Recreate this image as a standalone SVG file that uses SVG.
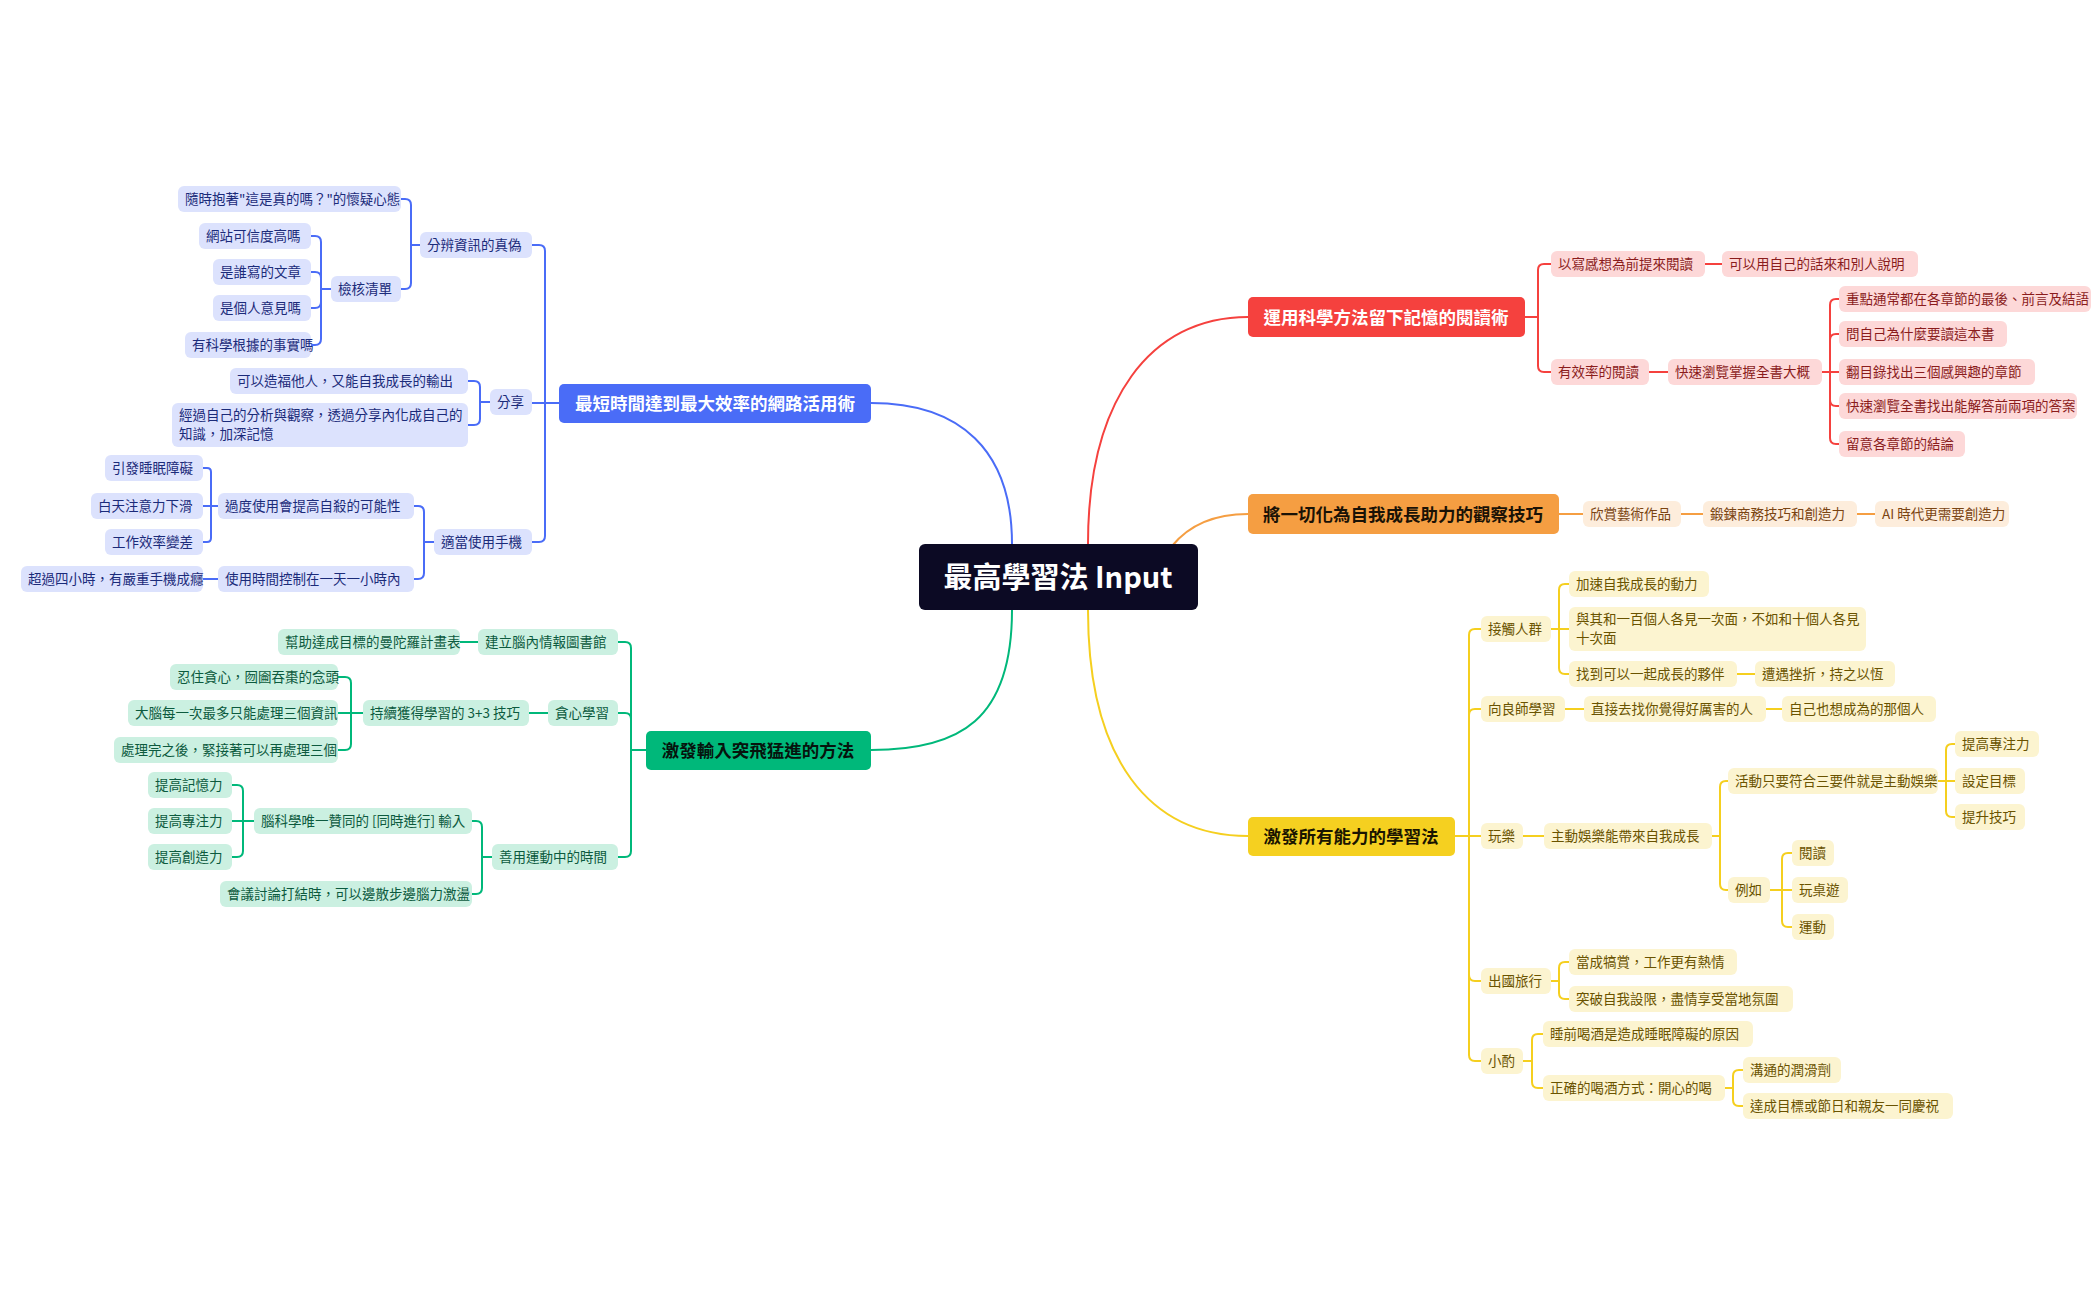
<svg xmlns="http://www.w3.org/2000/svg" width="2100" height="1300" viewBox="0 0 2100 1300">
<style>
text{font-family:"Noto Sans CJK TC","Noto Sans CJK SC",sans-serif;font-size:13.5px}
.b rect{fill:#dce2fd}.b text{fill:#1b2b7a}
.g rect{fill:#cbf0e1}.g text{fill:#0c5a3e}
.r rect{fill:#fdd8d8}.r text{fill:#8b1c1c}
.o rect{fill:#fdeddc}.o text{fill:#7a4412}
.y rect{fill:#fcf4d0}.y text{fill:#6a5300}
.m text{font-size:17.5px;font-weight:bold}
#connectors path{fill:none;stroke-width:2}
.cb{stroke:#4a6cf7}.cg{stroke:#00b87a}.cr{stroke:#f5413e}.co{stroke:#f59e42}.cy{stroke:#f5cf1f}
</style>
<rect width="2100" height="1300" fill="#fff"/>
<g id="connectors">
<g class="cb">
<path d="M1012 544 C1012 450 960 403 871 403" stroke-width="3"/>
<path d="M559 403 H545 V251 Q545 245 539 245 H532"/><path d="M559 403 H532"/><path d="M559 403 H545 V536 Q545 542 539 542 H532"/>
<path d="M420 245 H411 V205 Q411 199 405 199 H401"/><path d="M420 245 H411 V283 Q411 289 405 289 H401"/>
<path d="M331 289 H321 V242 Q321 236 315 236 H311"/><path d="M331 289 H321 V278 Q321 272 315 272 H311"/><path d="M331 289 H321 V302 Q321 308 315 308 H311"/><path d="M331 289 H321 V339 Q321 345 315 345 H311"/>
<path d="M490 402 H480 V387 Q480 381 474 381 H468"/><path d="M490 402 H480 V419 Q480 425 474 425 H468"/>
<path d="M434 542 H424 V512 Q424 506 418 506 H414"/><path d="M434 542 H424 V573 Q424 579 418 579 H414"/>
<path d="M218 506 H211 V472 Q211 468 207 468 H203"/><path d="M218 506 H203"/><path d="M218 506 H211 V538 Q211 542 207 542 H203"/>
<path d="M218 579 H203"/>
</g>
<g class="cg">
<path d="M1012 610 C1012 720 960 750 871 750" stroke-width="3"/>
<path d="M646 750 H631 V648 Q631 642 625 642 H618"/><path d="M646 750 H631 V719 Q631 713 625 713 H618"/><path d="M646 750 H631 V851 Q631 857 625 857 H618"/>
<path d="M478 642 H460"/><path d="M548 713 H529"/>
<path d="M363 713 H351 V683 Q351 677 345 677 H338"/><path d="M363 713 H338"/><path d="M363 713 H351 V744 Q351 750 345 750 H338"/>
<path d="M492 857 H482 V827 Q482 821 476 821 H472"/><path d="M492 857 H482 V888 Q482 894 476 894 H472"/>
<path d="M254 821 H243 V791 Q243 785 237 785 H232"/><path d="M254 821 H232"/><path d="M254 821 H243 V851 Q243 857 237 857 H232"/>
</g>
<g class="cr">
<path d="M1088 544 C1088 400 1150 317 1248 317" stroke-width="3"/>
<path d="M1525 317 H1538 V270 Q1538 264 1544 264 H1551"/><path d="M1525 317 H1538 V366 Q1538 372 1544 372 H1551"/>
<path d="M1705 264 H1722"/><path d="M1649 372 H1668"/>
<path d="M1822 372 H1830 V305 Q1830 299 1836 299 H1839"/><path d="M1822 372 H1830 V340 Q1830 334 1836 334 H1839"/><path d="M1822 372 H1839"/><path d="M1822 372 H1830 V400 Q1830 406 1836 406 H1839"/><path d="M1822 372 H1830 V438 Q1830 444 1836 444 H1839"/>
</g>
<g class="co">
<path d="M1172 546 C1190 524 1215 514 1248 514" stroke-width="3"/>
<path d="M1559 514 H1583"/><path d="M1681 514 H1703"/><path d="M1857 514 H1875"/>
</g>
<g class="cy">
<path d="M1088 610 C1088 760 1150 836 1248 836" stroke-width="3"/>
<path d="M1455 836 H1469 V635 Q1469 629 1475 629 H1481"/><path d="M1455 836 H1469 V715 Q1469 709 1475 709 H1481"/><path d="M1455 836 H1481"/><path d="M1455 836 H1469 V975 Q1469 981 1475 981 H1481"/><path d="M1455 836 H1469 V1055 Q1469 1061 1475 1061 H1481"/>
<path d="M1551 629 H1559 V590 Q1559 584 1565 584 H1569"/><path d="M1551 629 H1569"/><path d="M1551 629 H1559 V668 Q1559 674 1565 674 H1569"/>
<path d="M1737 674 H1755"/><path d="M1565 709 H1584"/><path d="M1766 709 H1782"/><path d="M1523 836 H1544"/>
<path d="M1712 836 H1720 V787 Q1720 781 1726 781 H1728"/><path d="M1712 836 H1720 V884 Q1720 890 1726 890 H1728"/>
<path d="M1938 781 H1946 V750 Q1946 744 1952 744 H1955"/><path d="M1938 781 H1955"/><path d="M1938 781 H1946 V811 Q1946 817 1952 817 H1955"/>
<path d="M1770 890 H1782 V859 Q1782 853 1788 853 H1792"/><path d="M1770 890 H1792"/><path d="M1770 890 H1782 V921 Q1782 927 1788 927 H1792"/>
<path d="M1551 981 H1559 V968 Q1559 962 1565 962 H1569"/><path d="M1551 981 H1559 V993 Q1559 999 1565 999 H1569"/>
<path d="M1523 1061 H1532 V1040 Q1532 1034 1538 1034 H1543"/><path d="M1523 1061 H1532 V1082 Q1532 1088 1538 1088 H1543"/>
<path d="M1725 1088 H1733 V1076 Q1733 1070 1739 1070 H1743"/><path d="M1725 1088 H1733 V1100 Q1733 1106 1739 1106 H1743"/>
</g>
</g>
<g id="center"><rect x="919" y="544" width="279" height="66" rx="6" fill="#0c0a24"/><text x="1058" y="588" text-anchor="middle" fill="#fff" style="font-size:29px;font-weight:bold">最高學習法 Input</text></g>
<g id="blue-main" class="m"><rect x="559" y="384" width="312" height="39" rx="5" fill="#4a6cf7"/><text x="715" y="410" text-anchor="middle" fill="#fff">最短時間達到最大效率的網路活用術</text></g>
<g id="green-main" class="m"><rect x="646" y="731" width="225" height="39" rx="5" fill="#00b87a"/><text x="758" y="757" text-anchor="middle" fill="#06130d">激發輸入突飛猛進的方法</text></g>
<g id="red-main" class="m"><rect x="1248" y="297" width="277" height="40" rx="5" fill="#f5413e"/><text x="1386" y="324" text-anchor="middle" fill="#fff">運用科學方法留下記憶的閱讀術</text></g>
<g id="orange-main" class="m"><rect x="1248" y="494" width="311" height="40" rx="5" fill="#f59e42"/><text x="1403" y="521" text-anchor="middle" fill="#1a1206">將一切化為自我成長助力的觀察技巧</text></g>
<g id="yellow-main" class="m"><rect x="1248" y="817" width="207" height="39" rx="5" fill="#f5d020"/><text x="1351" y="843" text-anchor="middle" fill="#1a1500">激發所有能力的學習法</text></g>

<g class="b">
<g id="b1"><rect x="420" y="232" width="112" height="26" rx="6"/><text x="427" y="250">分辨資訊的真偽</text></g>
<g id="b2"><rect x="490" y="389" width="42" height="26" rx="6"/><text x="497" y="407">分享</text></g>
<g id="b3"><rect x="434" y="529" width="98" height="26" rx="6"/><text x="441" y="547">適當使用手機</text></g>
<g id="b4"><rect x="178" y="186" width="223" height="26" rx="6"/><text x="185" y="204">隨時抱著"這是真的嗎？"的懷疑心態</text></g>
<g id="b5"><rect x="331" y="276" width="70" height="26" rx="6"/><text x="338" y="294">檢核清單</text></g>
<g id="b6"><rect x="199" y="223" width="112" height="26" rx="6"/><text x="206" y="241">網站可信度高嗎</text></g>
<g id="b7"><rect x="213" y="259" width="98" height="26" rx="6"/><text x="220" y="277">是誰寫的文章</text></g>
<g id="b8"><rect x="213" y="295" width="98" height="26" rx="6"/><text x="220" y="313">是個人意見嗎</text></g>
<g id="b9"><rect x="185" y="332" width="126" height="26" rx="6"/><text x="192" y="350">有科學根據的事實嗎</text></g>
<g id="b10"><rect x="230" y="368" width="238" height="26" rx="6"/><text x="237" y="386">可以造福他人，又能自我成長的輸出</text></g>
<g id="b11"><rect x="172" y="403" width="296" height="44" rx="6"/><text x="179" y="420">經過自己的分析與觀察，透過分享內化成自己的</text><text x="179" y="439">知識，加深記憶</text></g>
<g id="b12"><rect x="218" y="493" width="196" height="26" rx="6"/><text x="225" y="511">過度使用會提高自殺的可能性</text></g>
<g id="b13"><rect x="218" y="566" width="196" height="26" rx="6"/><text x="225" y="584">使用時間控制在一天一小時內</text></g>
<g id="b14"><rect x="105" y="455" width="98" height="26" rx="6"/><text x="112" y="473">引發睡眠障礙</text></g>
<g id="b15"><rect x="91" y="493" width="112" height="26" rx="6"/><text x="98" y="511">白天注意力下滑</text></g>
<g id="b16"><rect x="105" y="529" width="98" height="26" rx="6"/><text x="112" y="547">工作效率變差</text></g>
<g id="b17"><rect x="21" y="566" width="182" height="26" rx="6"/><text x="28" y="584">超過四小時，有嚴重手機成癮</text></g>
</g>

<g class="g">
<g id="g1"><rect x="478" y="629" width="140" height="26" rx="6"/><text x="485" y="647">建立腦內情報圖書館</text></g>
<g id="g2"><rect x="548" y="700" width="70" height="26" rx="6"/><text x="555" y="718">貪心學習</text></g>
<g id="g3"><rect x="492" y="844" width="126" height="26" rx="6"/><text x="499" y="862">善用運動中的時間</text></g>
<g id="g4"><rect x="278" y="629" width="182" height="26" rx="6"/><text x="285" y="647">幫助達成目標的曼陀羅計畫表</text></g>
<g id="g5"><rect x="363" y="700" width="166" height="26" rx="6"/><text x="370" y="718">持續獲得學習的 3+3 技巧</text></g>
<g id="g6"><rect x="170" y="664" width="168" height="26" rx="6"/><text x="177" y="682">忍住貪心，囫圇吞棗的念頭</text></g>
<g id="g7"><rect x="128" y="700" width="210" height="26" rx="6"/><text x="135" y="718">大腦每一次最多只能處理三個資訊</text></g>
<g id="g8"><rect x="114" y="737" width="224" height="26" rx="6"/><text x="121" y="755">處理完之後，緊接著可以再處理三個</text></g>
<g id="g9"><rect x="254" y="808" width="218" height="26" rx="6"/><text x="261" y="826">腦科學唯一贊同的 [同時進行] 輸入</text></g>
<g id="g10"><rect x="220" y="881" width="252" height="26" rx="6"/><text x="227" y="899">會議討論打結時，可以邊散步邊腦力激盪</text></g>
<g id="g11"><rect x="148" y="772" width="84" height="26" rx="6"/><text x="155" y="790">提高記憶力</text></g>
<g id="g12"><rect x="148" y="808" width="84" height="26" rx="6"/><text x="155" y="826">提高專注力</text></g>
<g id="g13"><rect x="148" y="844" width="84" height="26" rx="6"/><text x="155" y="862">提高創造力</text></g>
</g>

<g class="r">
<g id="r1"><rect x="1551" y="251" width="154" height="26" rx="6"/><text x="1558" y="269">以寫感想為前提來閱讀</text></g>
<g id="r2"><rect x="1551" y="359" width="98" height="26" rx="6"/><text x="1558" y="377">有效率的閱讀</text></g>
<g id="r3"><rect x="1722" y="251" width="196" height="26" rx="6"/><text x="1729" y="269">可以用自己的話來和別人說明</text></g>
<g id="r4"><rect x="1668" y="359" width="154" height="26" rx="6"/><text x="1675" y="377">快速瀏覽掌握全書大概</text></g>
<g id="r5"><rect x="1839" y="286" width="252" height="26" rx="6"/><text x="1846" y="304">重點通常都在各章節的最後、前言及結語</text></g>
<g id="r6"><rect x="1839" y="321" width="168" height="26" rx="6"/><text x="1846" y="339">問自己為什麼要讀這本書</text></g>
<g id="r7"><rect x="1839" y="359" width="196" height="26" rx="6"/><text x="1846" y="377">翻目錄找出三個感興趣的章節</text></g>
<g id="r8"><rect x="1839" y="393" width="238" height="26" rx="6"/><text x="1846" y="411">快速瀏覽全書找出能解答前兩項的答案</text></g>
<g id="r9"><rect x="1839" y="431" width="126" height="26" rx="6"/><text x="1846" y="449">留意各章節的結論</text></g>
</g>

<g class="o">
<g id="o1"><rect x="1583" y="501" width="98" height="26" rx="6"/><text x="1590" y="519">欣賞藝術作品</text></g>
<g id="o2"><rect x="1703" y="501" width="154" height="26" rx="6"/><text x="1710" y="519">鍛鍊商務技巧和創造力</text></g>
<g id="o3"><rect x="1875" y="501" width="134" height="26" rx="6"/><text x="1882" y="519">AI 時代更需要創造力</text></g>
</g>

<g class="y">
<g id="y1"><rect x="1481" y="616" width="70" height="26" rx="6"/><text x="1488" y="634">接觸人群</text></g>
<g id="y2"><rect x="1481" y="696" width="84" height="26" rx="6"/><text x="1488" y="714">向良師學習</text></g>
<g id="y3"><rect x="1481" y="823" width="42" height="26" rx="6"/><text x="1488" y="841">玩樂</text></g>
<g id="y4"><rect x="1481" y="968" width="70" height="26" rx="6"/><text x="1488" y="986">出國旅行</text></g>
<g id="y5"><rect x="1481" y="1048" width="42" height="26" rx="6"/><text x="1488" y="1066">小酌</text></g>
<g id="y6"><rect x="1569" y="571" width="140" height="26" rx="6"/><text x="1576" y="589">加速自我成長的動力</text></g>
<g id="y7"><rect x="1569" y="607" width="297" height="44" rx="6"/><text x="1576" y="624">與其和一百個人各見一次面，不如和十個人各見</text><text x="1576" y="643">十次面</text></g>
<g id="y8"><rect x="1569" y="661" width="168" height="26" rx="6"/><text x="1576" y="679">找到可以一起成長的夥伴</text></g>
<g id="y9"><rect x="1755" y="661" width="140" height="26" rx="6"/><text x="1762" y="679">遭遇挫折，持之以恆</text></g>
<g id="y10"><rect x="1584" y="696" width="182" height="26" rx="6"/><text x="1591" y="714">直接去找你覺得好厲害的人</text></g>
<g id="y11"><rect x="1782" y="696" width="154" height="26" rx="6"/><text x="1789" y="714">自己也想成為的那個人</text></g>
<g id="y12"><rect x="1544" y="823" width="168" height="26" rx="6"/><text x="1551" y="841">主動娛樂能帶來自我成長</text></g>
<g id="y13"><rect x="1728" y="768" width="210" height="26" rx="6"/><text x="1735" y="786">活動只要符合三要件就是主動娛樂</text></g>
<g id="y14"><rect x="1955" y="731" width="84" height="26" rx="6"/><text x="1962" y="749">提高專注力</text></g>
<g id="y15"><rect x="1955" y="768" width="70" height="26" rx="6"/><text x="1962" y="786">設定目標</text></g>
<g id="y16"><rect x="1955" y="804" width="70" height="26" rx="6"/><text x="1962" y="822">提升技巧</text></g>
<g id="y17"><rect x="1728" y="877" width="42" height="26" rx="6"/><text x="1735" y="895">例如</text></g>
<g id="y18"><rect x="1792" y="840" width="42" height="26" rx="6"/><text x="1799" y="858">閱讀</text></g>
<g id="y19"><rect x="1792" y="877" width="56" height="26" rx="6"/><text x="1799" y="895">玩桌遊</text></g>
<g id="y20"><rect x="1792" y="914" width="42" height="26" rx="6"/><text x="1799" y="932">運動</text></g>
<g id="y21"><rect x="1569" y="949" width="168" height="26" rx="6"/><text x="1576" y="967">當成犒賞，工作更有熱情</text></g>
<g id="y22"><rect x="1569" y="986" width="224" height="26" rx="6"/><text x="1576" y="1004">突破自我設限，盡情享受當地氛圍</text></g>
<g id="y23"><rect x="1543" y="1021" width="210" height="26" rx="6"/><text x="1550" y="1039">睡前喝酒是造成睡眠障礙的原因</text></g>
<g id="y24"><rect x="1543" y="1075" width="182" height="26" rx="6"/><text x="1550" y="1093">正確的喝酒方式：開心的喝</text></g>
<g id="y25"><rect x="1743" y="1057" width="98" height="26" rx="6"/><text x="1750" y="1075">溝通的潤滑劑</text></g>
<g id="y26"><rect x="1743" y="1093" width="210" height="26" rx="6"/><text x="1750" y="1111">達成目標或節日和親友一同慶祝</text></g>
</g>
</svg>
